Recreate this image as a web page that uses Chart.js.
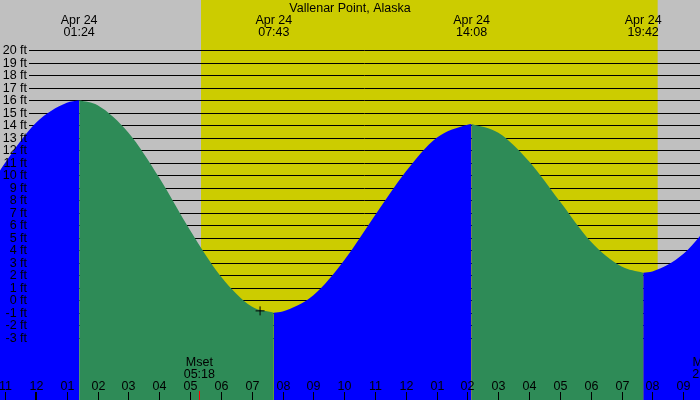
<!DOCTYPE html>
<html>
<head>
<meta charset="utf-8">
<script src="https://cdn.jsdelivr.net/npm/chart.js@4.4.1/dist/chart.umd.min.js"></script>
<style>
body{margin:0;background:#c0c0c0;}
canvas{display:block;}
</style>
</head>
<body>
<canvas id="tideChart" width="700" height="400"></canvas>
<script>

/* ===============================
   DATA
=============================== */

// hours from midnight Apr 24, tide height in ft
const tideHours = [-1.5, -1, 0, 1, 1.4, 2, 3, 4, 5, 6, 7, 7.717, 8, 9, 10, 11, 12, 13, 14, 14.133, 15, 16, 17, 18, 19, 19.7, 20, 21, 22];
const tideFeet  = [9.1, 11.0, 14.2, 15.8, 16.0, 15.6, 13.4, 9.8, 5.6, 1.9, -0.5, -1.0, -0.9, 0.4, 3.2, 6.8, 10.3, 13.0, 14.05, 14.1, 13.4, 11.1, 7.9, 4.7, 2.7, 2.2, 2.3, 3.7, 6.5];

const extremeHours = [1.4, 7.717, 14.133, 19.7];
const extremeLabels = ["01:24", "07:43", "14:08", "19:42"];
const dateLabel = "Apr 24";

const feetTicks = [-3,-2,-1,0,1,2,3,4,5,6,7,8,9,10,11,12,13,14,15,16,17,18,19,20];

const hourTicks = [-1,0,1,2,3,4,5,6,7,8,9,10,11,12,13,14,15,16,17,18,19,20,21];
const hourLabels = ["11","12","01","02","03","04","05","06","07","08","09","10","11","12","01","02","03","04","05","06","07","08","09"];

const sunrise = 5.354;
const sunset = 20.17;

const moonEvents = [
    {name:"Mset", time:"05:18", hour:5.3},
    {name:"Mrise", time:"21:48", hour:21.8}
];

const markerPoint = {x:7.27, y:-0.85};

const title = "Vallenar Point, Alaska";
const FONT = "12.5px 'Liberation Sans', Arial, sans-serif";


/* ===============================
   SPLIT INTO RISING / FALLING
=============================== */

function buildDatasets(){

const sets = [];
let start = 0;

for(let i=1;i<tideHours.length;i++){
    const isExtreme = extremeHours.includes(tideHours[i]);
    if(isExtreme || i===tideHours.length-1){
        const pts = [];
        for(let j=start;j<=i;j++) pts.push({x:tideHours[j], y:tideFeet[j]});
        const rising = tideFeet[i] > tideFeet[start];
        sets.push({
            data: pts,
            backgroundColor: rising ? "#0000ff" : "#2e8b57",
            borderWidth: 0,
            borderColor: "rgba(0,0,0,0)",
            fill: "start",
            pointRadius: 0,
            cubicInterpolationMode: "monotone"
        });
        start = i;
    }
}

// small cross marker on top
sets.unshift({
    data:[markerPoint],
    showLine:false,
    fill:false,
    pointStyle:"cross",
    pointRadius:4.5,
    pointBorderColor:"#000",
    pointBorderWidth:1,
    borderColor:"#000"
});

return sets;
}


/* ===============================
   CUSTOM DRAWING
=============================== */

const tidePlugin = {
id:"tideDecor",

beforeDraw(chart){
    const {ctx, scales:{x}} = chart;
    ctx.save();
    ctx.fillStyle = "#c0c0c0";
    ctx.fillRect(0,0,chart.width,chart.height);
    const x1 = x.getPixelForValue(sunrise);
    const x2 = x.getPixelForValue(sunset);
    ctx.fillStyle = "#cccc00";
    ctx.fillRect(x1,0,x2-x1,chart.height);
    ctx.restore();
},

beforeDatasetsDraw(chart){
    const {ctx, scales:{y}} = chart;
    ctx.save();
    ctx.strokeStyle = "#000";
    ctx.lineWidth = 1;
    feetTicks.forEach(f=>{
        const py = Math.round(y.getPixelForValue(f)) + 0.5;
        ctx.beginPath();
        ctx.moveTo(29,py);
        ctx.lineTo(chart.width,py);
        ctx.stroke();
    });
    ctx.restore();
},

afterDatasetsDraw(chart){
    const {ctx, scales:{x,y}} = chart;
    ctx.save();
    ctx.font = FONT;
    ctx.fillStyle = "#000";

    // y labels
    ctx.textAlign = "right";
    ctx.textBaseline = "middle";
    feetTicks.forEach(f=>{
        ctx.fillText(f+" ft", 27, y.getPixelForValue(f)+0.5);
    });

    // title
    ctx.textAlign = "center";
    ctx.textBaseline = "alphabetic";
    ctx.fillText(title, 350, 12);

    // high / low times
    extremeHours.forEach((h,i)=>{
        const px = x.getPixelForValue(h);
        ctx.fillText(dateLabel, px, 24);
        ctx.fillText(extremeLabels[i], px, 36);
    });

    // hour ticks
    ctx.strokeStyle = "#000";
    hourTicks.forEach((h,i)=>{
        const px = Math.round(x.getPixelForValue(h));
        ctx.lineWidth = h===0 ? 2 : 1;
        ctx.beginPath();
        ctx.moveTo(h===0 ? px : px+0.5, 392);
        ctx.lineTo(h===0 ? px : px+0.5, 400);
        ctx.stroke();
        ctx.fillText(hourLabels[i], px+0.5, 390);
    });

    // moon
    moonEvents.forEach(m=>{
        const px = x.getPixelForValue(m.hour);
        ctx.fillText(m.name, px, 366);
        ctx.fillText(m.time, px, 377.5);
        ctx.strokeStyle = "#ff0000";
        ctx.lineWidth = 1;
        ctx.beginPath();
        ctx.moveTo(Math.round(px)+0.5, 391);
        ctx.lineTo(Math.round(px)+0.5, 400);
        ctx.stroke();
    });

    ctx.restore();
}
};


/* ===============================
   CHART
=============================== */

new Chart(document.getElementById("tideChart"), {
    type:"line",
    data:{ datasets: buildDatasets() },
    options:{
        responsive:false,
        animation:false,
        devicePixelRatio:1,
        layout:{ padding:0, autoPadding:false },
        plugins:{
            legend:{ display:false },
            tooltip:{ enabled:false }
        },
        scales:{
            x:{ type:"linear", min:-1.168, max:21.544, display:false },
            y:{ type:"linear", min:-7.98, max:24.02, display:false }
        }
    },
    plugins:[tidePlugin]
});

</script>
</body>
</html>
